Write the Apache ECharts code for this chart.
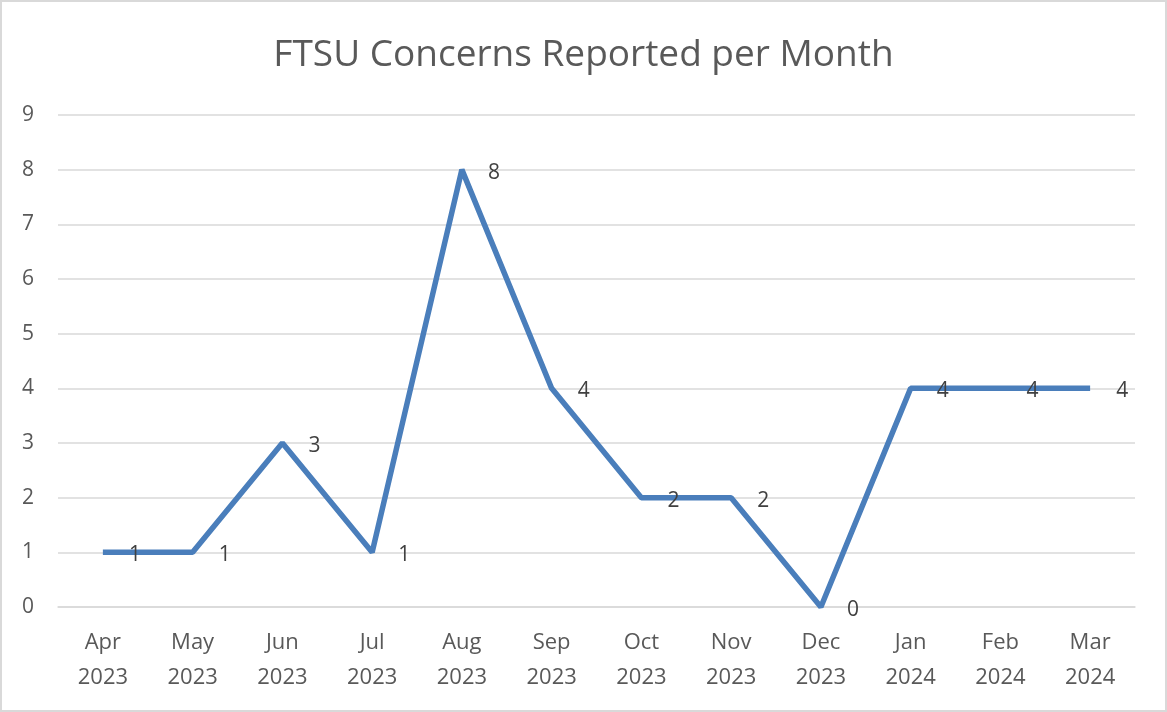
<!DOCTYPE html>
<html>
<head>
<meta charset="utf-8">
<script src="https://cdn.jsdelivr.net/npm/echarts@6/dist/echarts.min.js"></script>
<style>
  html, body { margin: 0; padding: 0; background: #ffffff; }
  #chart {
    width: 1163px;
    height: 708px;
    border: 2px solid #d9d9d9;
  }
</style>
</head>
<body>
<div id="chart"></div>
<script>
// 图表数据
const months = ['Apr\n2023', 'May\n2023', 'Jun\n2023', 'Jul\n2023', 'Aug\n2023', 'Sep\n2023',
  'Oct\n2023', 'Nov\n2023', 'Dec\n2023', 'Jan\n2024', 'Feb\n2024', 'Mar\n2024']
const concerns = [1, 1, 3, 1, 8, 4, 2, 2, 0, 4, 4, 4]
const titleText = 'FTSU Concerns Reported per Month'

const fontFamily = '"Open Sans", "Liberation Sans", sans-serif'
const textGrey = '#595959'

const chart = echarts.init(document.getElementById('chart'))

chart.setOption({
  animation: false,
  title: {
    text: titleText,
    left: 'center',
    top: 30,
    textStyle: {
      color: textGrey,
      fontSize: 37,
      fontWeight: 'normal',
      fontFamily: fontFamily
    }
  },
  grid: {
    left: 56,
    right: 30,
    top: 113,
    bottom: 103
  },
  xAxis: {
    type: 'category',
    data: months,
    boundaryGap: true,
    axisLine: { lineStyle: { color: '#d9d9d9', width: 1.5 } },
    axisTick: { show: false },
    axisLabel: {
      color: textGrey,
      fontSize: 22,
      fontFamily: fontFamily,
      lineHeight: 35,
      margin: 18
    }
  },
  yAxis: {
    type: 'value',
    min: 0,
    max: 9,
    interval: 1,
    axisLine: { show: false },
    axisTick: { show: false },
    axisLabel: {
      color: textGrey,
      fontSize: 21,
      fontFamily: fontFamily,
      margin: 24
    },
    splitLine: { lineStyle: { color: '#d9d9d9', width: 1.5 } }
  },
  series: [{
    type: 'line',
    data: concerns,
    symbol: 'circle',
    symbolSize: 0,
    showSymbol: true,
    lineStyle: { color: '#4a7ebb', width: 5.5 },
    itemStyle: { color: '#4a7ebb' },
    label: {
      show: true,
      position: 'right',
      distance: 26,
      offset: [0, 3],
      color: '#404040',
      fontSize: 21,
      fontFamily: fontFamily
    }
  }]
})
</script>
</body>
</html>
